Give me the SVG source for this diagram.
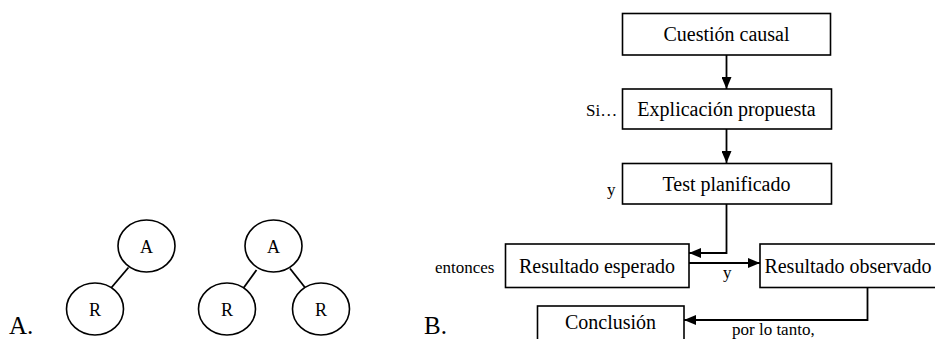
<svg xmlns="http://www.w3.org/2000/svg" width="935" height="339" viewBox="0 0 935 339">
  <style>
    text { font-family: "Liberation Serif", "Times New Roman", serif; fill: #000; }
    .box { fill: #fff; stroke: #000; stroke-width: 1.6; }
    .node { fill: #fff; stroke: #000; stroke-width: 1.6; }
    .edge { fill: none; stroke: #000; stroke-width: 1.8; }
    .arrow { fill: none; stroke: #000; stroke-width: 1.8; marker-end: url(#head); }
    .t20 { font-size: 20px; text-anchor: middle; }
    .t18 { font-size: 18px; text-anchor: middle; }
    .lbl { font-size: 17px; }
    .panel { font-size: 25px; }
  </style>
  <defs>
    <marker id="head" markerUnits="userSpaceOnUse" markerWidth="13" markerHeight="10" refX="12" refY="5" orient="auto">
      <path d="M0,0 L12,5 L0,10 z" fill="#000"/>
    </marker>
  </defs>

  <!-- Panel A: trees -->
  <g id="connectors-a">
    <line class="edge" x1="128.5" y1="267.5" x2="111.5" y2="287.5"/>
    <line class="edge" x1="256.5" y1="270" x2="243.5" y2="288"/>
    <line class="edge" x1="290" y1="268.5" x2="305" y2="287.5"/>
  </g>
  <g id="tree1-A">
    <ellipse class="node" cx="146.5" cy="246" rx="28.5" ry="26"/>
    <text class="t18" x="146.5" y="252.5">A</text>
  </g>
  <g id="tree1-R">
    <ellipse class="node" cx="95" cy="309" rx="28.5" ry="26"/>
    <text class="t18" x="95" y="315.5">R</text>
  </g>
  <g id="tree2-A">
    <ellipse class="node" cx="273.5" cy="246" rx="28.5" ry="26"/>
    <text class="t18" x="273.5" y="252.5">A</text>
  </g>
  <g id="tree2-R1">
    <ellipse class="node" cx="227" cy="309" rx="28.5" ry="26"/>
    <text class="t18" x="227" y="315.5">R</text>
  </g>
  <g id="tree2-R2">
    <ellipse class="node" cx="321" cy="309" rx="28.5" ry="26"/>
    <text class="t18" x="321" y="315.5">R</text>
  </g>
  <text class="panel" x="9" y="334">A.</text>

  <!-- Panel B: flow chart -->
  <g id="connectors-b">
    <line class="arrow" x1="726.5" y1="55" x2="726.5" y2="89"/>
    <line class="arrow" x1="726.5" y1="129" x2="726.5" y2="163"/>
    <polyline class="arrow" points="726.5,204 726.5,253 689,253"/>
    <line class="arrow" x1="689" y1="263" x2="760" y2="263"/>
    <polyline class="arrow" points="867.5,287 867.5,320 684,320"/>
  </g>

  <g id="cuestion">
    <rect class="box" x="622.5" y="13.5" width="208" height="41.5"/>
    <text class="t20" x="726.5" y="41">Cuestión causal</text>
  </g>
  <g id="explicacion">
    <rect class="box" x="622.5" y="89" width="209" height="40"/>
    <text class="t20" x="726.5" y="116">Explicación propuesta</text>
    <text class="lbl" x="586" y="116">Si…</text>
  </g>
  <g id="test">
    <rect class="box" x="622.5" y="163.5" width="209" height="40.5"/>
    <text class="t20" x="726.5" y="191">Test planificado</text>
    <text class="lbl" x="607" y="195">y</text>
  </g>
  <g id="esperado">
    <rect class="box" x="505.5" y="244" width="183.5" height="43.5"/>
    <text class="t20" x="597" y="273">Resultado esperado</text>
    <text class="lbl" x="435" y="273">entonces</text>
  </g>
  <text class="lbl" x="723" y="278">y</text>
  <g id="observado">
    <rect class="box" x="760" y="244" width="180" height="43.5"/>
    <text class="t20" x="848" y="273">Resultado observado</text>
  </g>
  <g id="conclusion">
    <rect class="box" x="537.5" y="306" width="146.5" height="40"/>
    <text class="t20" x="610.5" y="329">Conclusión</text>
  </g>
  <text class="lbl" x="732" y="335">por lo tanto,</text>
  <text class="panel" x="424" y="334">B.</text>
</svg>
